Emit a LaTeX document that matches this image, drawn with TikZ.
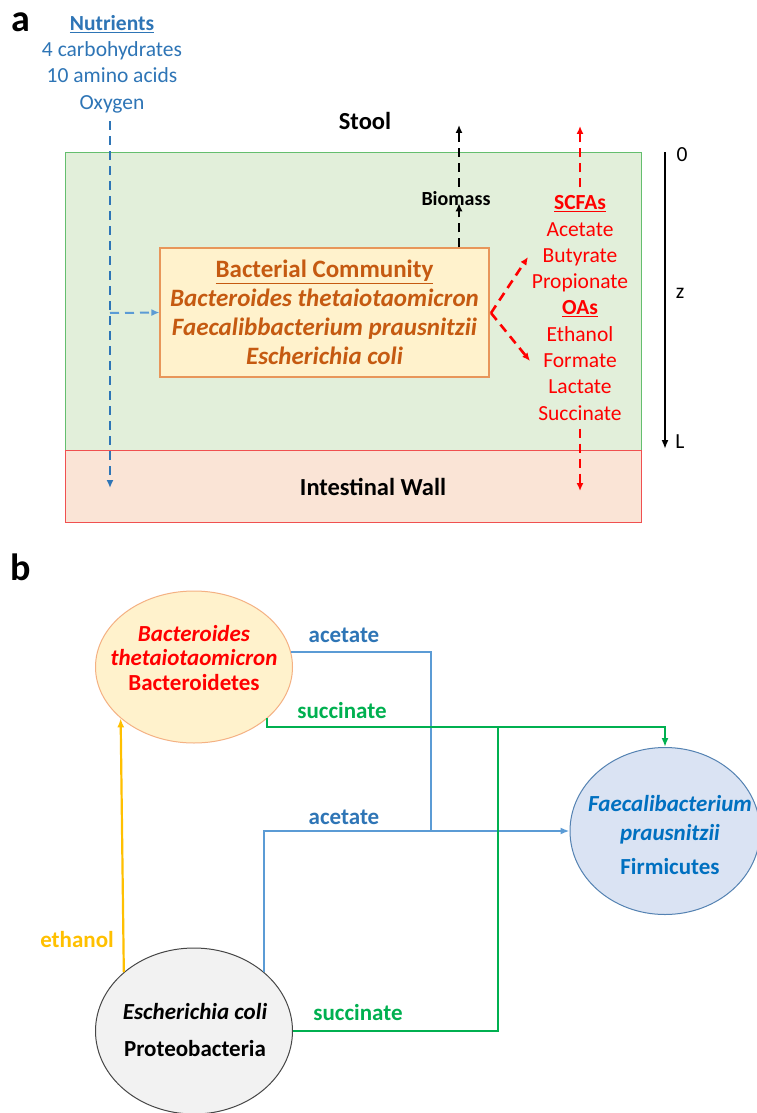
\documentclass[tikz,border=0pt]{standalone}
\usepackage{fontspec}
\setmainfont{Carlito}
\usepackage{xcolor}
\usepackage{tikz}
\usetikzlibrary{
    arrows.meta,
    positioning,
    shapes.geometric,
    calc
}
\definecolor{nutblue}{RGB}{46,117,182}
\definecolor{lightblue}{RGB}{91,155,213}
\definecolor{commbrown}{RGB}{197,90,17}
\definecolor{commfill}{RGB}{255,242,204}
\definecolor{commdraw}{RGB}{232,150,90}
\definecolor{lumenfill}{RGB}{226,239,218}
\definecolor{lumendraw}{RGB}{100,190,110}
\definecolor{wallfill}{RGB}{250,228,214}
\definecolor{walldraw}{RGB}{240,80,80}
\definecolor{prodred}{RGB}{255,0,0}
\definecolor{succgreen}{RGB}{0,176,80}
\definecolor{ethyellow}{RGB}{255,192,0}
\definecolor{btdraw}{RGB}{244,177,131}
\definecolor{fpfill}{RGB}{218,227,243}
\definecolor{fpdraw}{RGB}{84,130,178}
\definecolor{fptext}{RGB}{0,112,192}
\definecolor{ecfill}{RGB}{242,242,242}
\definecolor{ecdraw}{RGB}{70,70,70}
\tikzset{
    panel/.style={
        font=\fontsize{38}{38}\selectfont\bfseries,
        inner sep=0pt
    },
    plain/.style={
        align=center,
        inner sep=0pt,
        font=\fontsize{21.5}{26.3}\selectfont
    },
    heading/.style={
        inner sep=0pt,
        font=\fontsize{24.5}{24.5}\selectfont\bfseries
    },
    region/.style={
        rectangle,
        line width=1pt,
        minimum width=576pt
    },
    commbox/.style={
        rectangle,
        draw=commdraw,
        fill=commfill,
        line width=1.2pt,
        minimum width=329pt,
        minimum height=129pt,
        align=center,
        text=commbrown,
        font=\fontsize{25}{29}\selectfont\bfseries
    },
    dasharrow/.style={
        -{Latex[length=8pt,width=7pt]},
        line width=2.6pt,
        dash pattern=on 9pt off 6pt
    },
    microbe/.style={
        ellipse,
        line width=1pt,
        inner sep=0pt,
        minimum width=197pt
    },
    microbetext/.style={
        align=center,
        inner sep=0pt,
        font=\fontsize{23}{24.5}\selectfont\bfseries
    },
    flow/.style={
        line width=2.2pt
    },
    flowarrow/.style={
        -{Latex[length=9pt,width=7pt]},
        line width=2.2pt
    },
    flowlabel/.style={
        inner sep=0pt,
        font=\fontsize{23}{23}\selectfont\bfseries
    }
}

\begin{document}
\begin{tikzpicture}[x=1pt, y=-1pt]

\useasboundingbox[fill=white] (0,0) rectangle (757,1113);

\node[panel] (pa) at (21,22) {a};

\node[region, draw=lumendraw, fill=lumenfill, minimum height=298pt] (lumen) at (353,301) {};
\node[region, draw=walldraw, fill=wallfill, minimum height=72pt] (wall) at (353,486) {};

\node[plain, text=nutblue] (nut) at (112,64) {\textbf{\underline{Nutrients}}\\4 carbohydrates\\10 amino acids\\Oxygen};
\node[heading] (stool) at (365,121) {Stool};
\node[heading] (iwall) at (373,487) {Intestinal Wall};

\node[commbox] (comm) at (324.5,312.5) {\underline{Bacterial Community}\\\textit{Bacteroides thetaiotaomicron}\\\textit{Faecalibbacterium prausnitzii}\\\textit{Escherichia coli}};

\node[heading, font=\fontsize{20}{20}\selectfont\bfseries] (bio) at (456,199) {Biomass};
\node[plain, text=prodred] (prod) at (580,308) {\textbf{\underline{SCFAs}}\\Acetate\\Butyrate\\Propionate\\\textbf{\underline{OAs}}\\Ethanol\\Formate\\Lactate\\Succinate};

\coordinate (nutend) at (110,488);
\coordinate (nutbranch) at (110,313);
\coordinate (biotop) at (459,125);
\coordinate (produp) at (580,126);
\coordinate (proddown) at (580,491);
\coordinate (fork) at (491,313);
\coordinate (scfatip) at (528,257);
\coordinate (oatip) at (530,361);
\coordinate (ztop) at (665,152);
\coordinate (zbot) at (665,449);

\draw[dasharrow, nutblue] (nutend |- nut.south) ++(0,8) -- (nutend);
\draw[dasharrow, lightblue, line width=2pt] (nutbranch) -- (comm.west);
\draw[dasharrow, black] (comm.north -| biotop) -- ($(bio.south -| biotop)+(0,-3)$);
\draw[dasharrow, black] ($(bio.north -| biotop)+(0,-5)$) -- (biotop);
\draw[dasharrow, prodred] ($(prod.north)+(0,-8)$) -- (produp);
\draw[dasharrow, prodred] ($(prod.south)+(0,8)$) -- (proddown);
\draw[dasharrow, prodred] (fork) -- (scfatip);
\draw[dasharrow, prodred] (fork) -- (oatip);

\draw[-{Latex[length=9pt,width=7pt]}, line width=2pt] (ztop) -- (zbot);
\node[plain] (zzero) at (682,155) {0};
\node[plain] (zlab) at (680,293) {z};
\node[plain] (zend) at (680,442) {L};

\node[panel] (pb) at (21,567) {b};

\node[microbe, draw=btdraw, fill=commfill, minimum height=152pt] (bt) at (194,667) {};
\node[microbetext, text=prodred] (bttext) at (194,658) {\textit{Bacteroides}\\\textit{thetaiotaomicron}\\Bacteroidetes};
\node[microbe, draw=fpdraw, fill=fpfill, minimum width=190pt, minimum height=167pt] (fp) at (665,831) {};
\node[microbetext, text=fptext] (fptext) at (670,835) {\textit{Faecalibacterium}\\[5pt]\textit{prausnitzii}\\[9pt]Firmicutes};
\node[microbe, draw=ecdraw, fill=ecfill, minimum height=166pt] (ec) at (194,1031) {};
\node[microbetext] (ectext) at (195,1030) {\textit{Escherichia coli}\\[12pt]Proteobacteria};

\coordinate (acej) at (431,831);
\coordinate (sucj) at (498,727);

\draw[flow, lightblue] (bt.9) -| (acej);
\draw[flowarrow, lightblue] (ec.40) |- (acej) -- (fp.west);
\draw[flowarrow, succgreen] (bt.-35) |- (sucj) -| (fp.north);
\draw[flow, succgreen] (ec.east) -| (sucj);
\draw[flowarrow, ethyellow] (ec.140) -- (bt.-145);

\node[flowlabel, text=nutblue] (ace1) at (344,635) {acetate};
\node[flowlabel, text=succgreen] (suc1) at (342,711) {succinate};
\node[flowlabel, text=nutblue] (ace2) at (344,817) {acetate};
\node[flowlabel, text=succgreen] (suc2) at (358,1013) {succinate};
\node[flowlabel, text=ethyellow] (eth) at (77,940) {ethanol};

\end{tikzpicture}
\end{document}
